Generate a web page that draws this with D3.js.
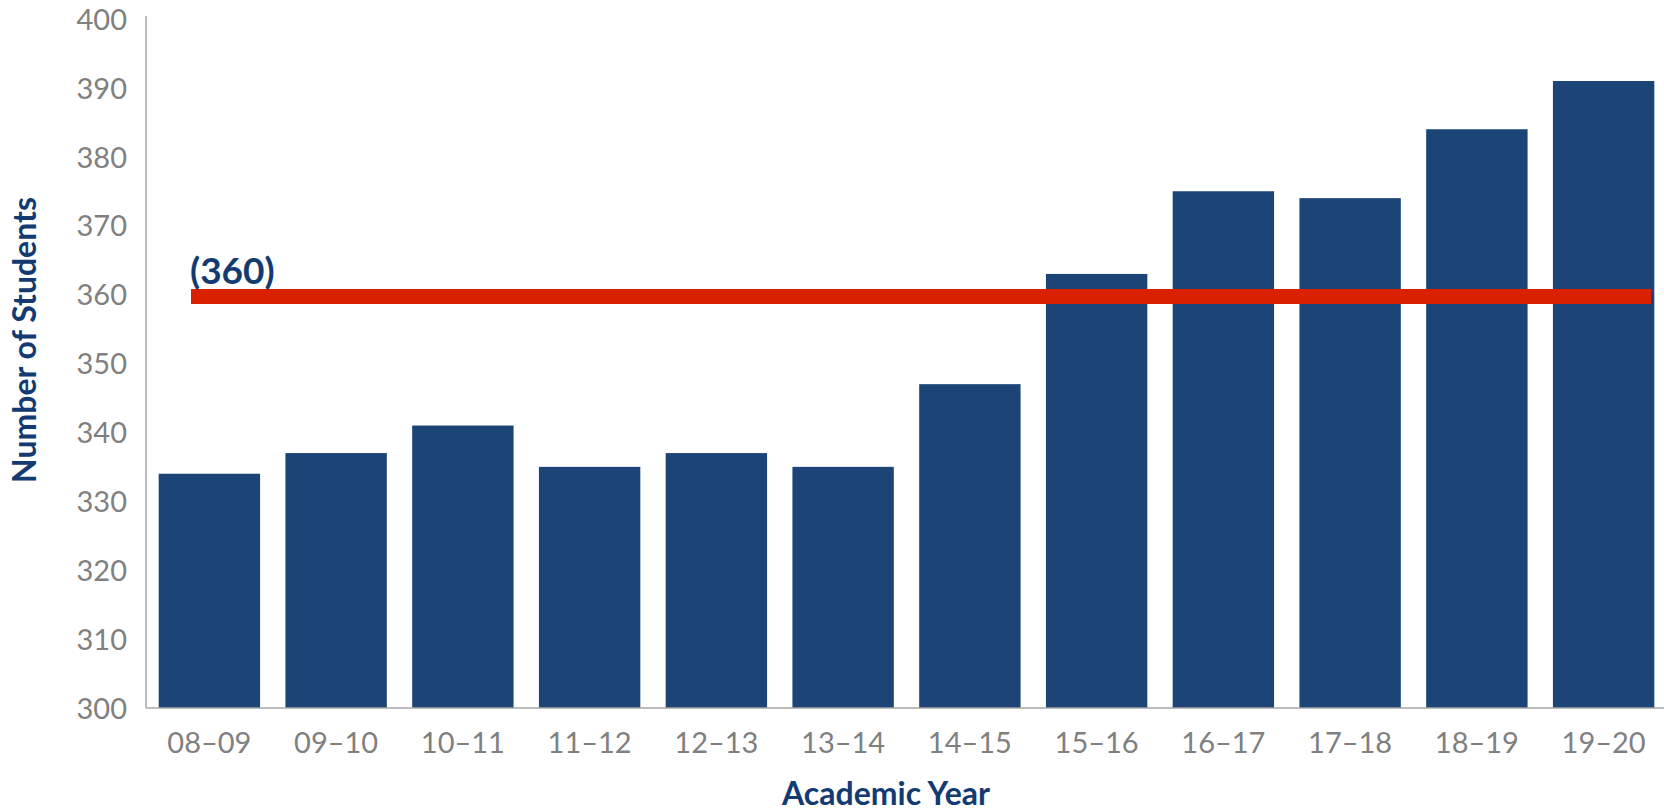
<!DOCTYPE html>
<html>
<head>
    <title>Number of Students by Academic Year</title>
    <script src="https://d3js.org/d3.v7.min.js"></script>
    <style>
        body { margin: 0; background: #fff; }
        text { font-family: Lato, "Open Sans", sans-serif; }
    </style>
</head>
<body>
    <script>
// values
let years = ["08–09", "09–10", "10–11", "11–12", "12–13", "13–14",
             "14–15", "15–16", "16–17", "17–18", "18–19", "19–20"];
let students = [334, 337, 341, 335, 337, 335, 347, 363, 375, 374, 384, 391];
let yTicks = [300, 310, 320, 330, 340, 350, 360, 370, 380, 390, 400];
let target = 360;

let width = 1664, height = 811;
let plotLeft = 146, plotRight = 1667, plotTop = 19, plotBottom = 708;

let svg = d3.select("body")
    .append("svg")
    .attr("width", width)
    .attr("height", height);

let x = d3.scaleBand()
    .domain(years)
    .range([plotLeft, plotRight])
    .paddingInner(0.2)
    .paddingOuter(0.1);

let y = d3.scaleLinear()
    .domain([300, 400])
    .range([plotBottom, plotTop]);

// bars
svg.selectAll("rect.bar")
    .data(students)
    .enter()
    .append("rect")
    .attr("class", "bar")
    .attr("x", (d, i) => x(years[i]))
    .attr("y", d => y(d))
    .attr("width", x.bandwidth())
    .attr("height", d => plotBottom - y(d))
    .style("fill", "#1c4477");

// axes lines
svg.append("line")
    .attr("x1", plotLeft).attr("x2", plotLeft)
    .attr("y1", plotTop - 3).attr("y2", plotBottom)
    .style("stroke", "#a6a6a6").style("stroke-width", 1.5);
svg.append("line")
    .attr("x1", plotLeft).attr("x2", width)
    .attr("y1", plotBottom).attr("y2", plotBottom)
    .style("stroke", "#a6a6a6").style("stroke-width", 1.5);

// y tick labels
svg.selectAll("text.ytick")
    .data(yTicks)
    .enter()
    .append("text")
    .attr("class", "ytick")
    .attr("x", plotLeft - 19)
    .attr("y", d => y(d))
    .attr("dy", "0.37em")
    .attr("text-anchor", "end")
    .style("font-size", "29px")
    .style("fill", "#808080")
    .text(d => d);

// x tick labels
svg.selectAll("text.xtick")
    .data(years)
    .enter()
    .append("text")
    .attr("class", "xtick")
    .attr("x", d => x(d) + x.bandwidth() / 2)
    .attr("y", 743)
    .attr("dy", "0.35em")
    .attr("text-anchor", "middle")
    .style("font-size", "29px")
    .style("fill", "#808080")
    .text(d => d);

// target line (drawn a touch below the gridline, as in the original)
svg.append("line")
    .attr("x1", 191).attr("x2", 1651)
    .attr("y1", y(target) + 2).attr("y2", y(target) + 2)
    .style("stroke", "#d92100")
    .style("stroke-width", 15);

svg.append("text")
    .attr("x", 190)
    .attr("y", y(target) - 11)
    .style("font-size", "37px")
    .style("font-weight", "bold")
    .style("fill", "#143a72")
    .text("(" + target + ")");

// axis titles
svg.append("text")
    .attr("transform", "translate(36,340) rotate(-90)")
    .attr("text-anchor", "middle")
    .style("font-size", "32px")
    .style("font-weight", "bold")
    .style("fill", "#143a72")
    .text("Number of Students");

svg.append("text")
    .attr("x", 886)
    .attr("y", 805)
    .attr("text-anchor", "middle")
    .style("font-size", "32px")
    .style("font-weight", "bold")
    .style("fill", "#143a72")
    .text("Academic Year");
    </script>
</body>
</html>
